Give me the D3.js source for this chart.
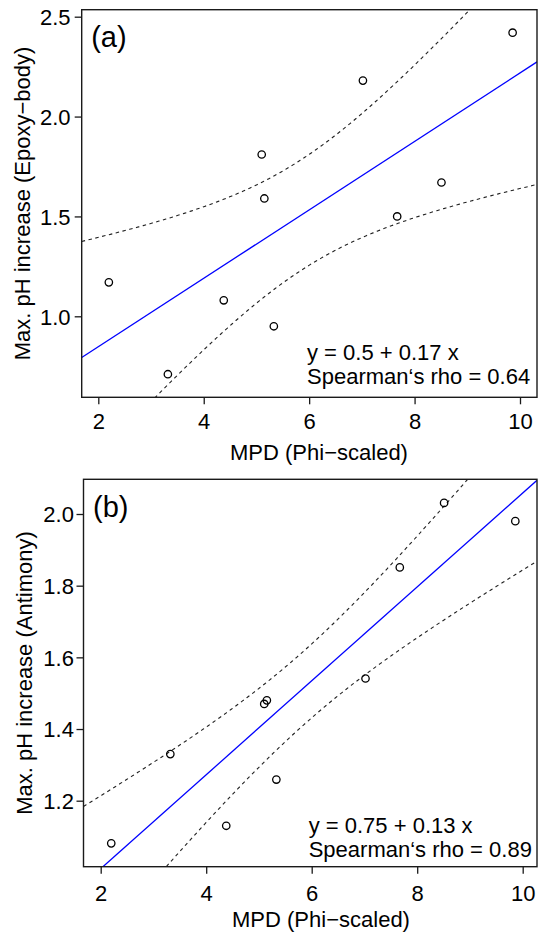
<!DOCTYPE html>
<html>
<head>
<meta charset="utf-8">
<script src="https://cdn.jsdelivr.net/npm/d3@7"></script>
<style>
html,body{margin:0;padding:0;background:#fff;}
svg{display:block;font-family:"Liberation Sans",Arial,Helvetica,sans-serif;}
</style>
</head>
<body>
<svg id="chart" width="539" height="932"></svg>
<script>
// ---- data ----
const mpd = [2.20, 3.32, 4.38, 5.10, 5.15, 5.33, 7.02, 7.67, 8.51, 9.86];
const phEpoxy = [1.17, 0.71, 1.08, 1.81, 1.59, 0.95, 2.18, 1.50, 1.67, 2.42];
const phAntimony = [1.081, 1.33, 1.13, 1.47, 1.48, 1.259, 1.541, 1.851, 2.031, 1.98];
const xTicks = [2, 4, 6, 8, 10];
const yTicksA = [1.0, 1.5, 2.0, 2.5];
const yTicksB = [1.2, 1.4, 1.6, 1.8, 2.0];
const panelLabels = ["(a)", "(b)"];
const yTitles = ["Max. pH increase (Epoxy\u2212body)", "Max. pH increase (Antimony)"];
const xTitle = "MPD (Phi\u2212scaled)";
const eqTexts = ["y = 0.5 + 0.17 x", "y = 0.75 + 0.13 x"];
const rhoTexts = ["Spearman\u2018s rho = 0.64", "Spearman\u2018s rho = 0.89"];
const tCrit = 2.306; // t(0.975, df = 8)

const svg = d3.select("#chart");
const FS = 22;

function fit(xs, ys) {
  const n = xs.length;
  const mx = d3.mean(xs), my = d3.mean(ys);
  let sxy = 0, sxx = 0;
  for (let i = 0; i < n; i++) { sxy += (xs[i]-mx)*(ys[i]-my); sxx += (xs[i]-mx)**2; }
  const b = sxy / sxx, a = my - b*mx;
  let sse = 0;
  for (let i = 0; i < n; i++) sse += (ys[i] - a - b*xs[i])**2;
  const s = Math.sqrt(sse/(n-2));
  return {a, b, s, n, mx, sxx};
}

function panel(cfg) {
  const {idx, box, xMap, yMap, yTicks, ys, labelBaseline, tickLabelEnd, eqBase} = cfg;
  const x = d3.scaleLinear().domain([2, 10]).range(xMap);
  const y = d3.scaleLinear().domain(yMap.dom).range(yMap.rng);
  const g = svg.append("g");
  const clipId = "clip" + idx;
  g.append("clipPath").attr("id", clipId).append("rect")
    .attr("x", box.l).attr("y", box.t).attr("width", box.r - box.l).attr("height", box.b - box.t);

  // fit + confidence band
  const m = fit(mpd, ys);
  const xLo = x.invert(box.l), xHi = x.invert(box.r);
  const grid = d3.range(0, 201).map(i => xLo + (xHi - xLo) * i / 200);
  const ci = sgn => grid.map(v => {
    const f = m.a + m.b*v;
    const se = m.s*Math.sqrt(1/m.n + (v-m.mx)**2/m.sxx);
    return [v, f + sgn*tCrit*se];
  });
  const line = d3.line().x(d => x(d[0])).y(d => y(d[1]));
  const cg = g.append("g").attr("clip-path", `url(#${clipId})`);
  [-1, 1].forEach(sgn => {
    cg.append("path").attr("d", line(ci(sgn))).attr("fill", "none")
      .attr("stroke", "#222").attr("stroke-width", 1.1).attr("stroke-dasharray", "3.5,3.5");
  });
  cg.append("path").attr("d", line([[xLo, m.a + m.b*xLo], [xHi, m.a + m.b*xHi]]))
    .attr("fill", "none").attr("stroke", "#0000ff").attr("stroke-width", 1.3);

  // points
  g.selectAll("circle.pt").data(mpd.map((v, i) => [v, ys[i]])).enter().append("circle")
    .attr("class", "pt").attr("cx", d => x(d[0])).attr("cy", d => y(d[1])).attr("r", 3.7)
    .attr("fill", "none").attr("stroke", "#000").attr("stroke-width", 1.3);

  // box
  g.append("rect").attr("x", box.l).attr("y", box.t).attr("width", box.r - box.l).attr("height", box.b - box.t)
    .attr("fill", "none").attr("stroke", "#1a1a1a").attr("stroke-width", 1.4);

  // x axis
  const xa = g.append("g").attr("transform", `translate(0,${box.b})`)
    .call(d3.axisBottom(x).tickValues(xTicks).tickSize(7).tickPadding(4).tickFormat(d3.format("d")));
  xa.select(".domain").remove();
  xa.selectAll("line").attr("stroke", "#1a1a1a").attr("stroke-width", 1.3);
  xa.selectAll("text").attr("font-size", FS).attr("fill", "#000").attr("font-family", null)
    .attr("dy", null).attr("y", cfg.xTickBase - box.b);

  // y axis
  const ya = g.append("g").attr("transform", `translate(${box.l},0)`)
    .call(d3.axisLeft(y).tickValues(yTicks).tickSize(7).tickPadding(4).tickFormat(d3.format(".1f")));
  ya.select(".domain").remove();
  ya.selectAll("line").attr("stroke", "#1a1a1a").attr("stroke-width", 1.3);
  ya.selectAll("text").attr("font-size", FS).attr("fill", "#000").attr("font-family", null)
    .attr("x", tickLabelEnd - box.l).attr("dy", "0.36em");

  // titles
  g.append("text").attr("x", cfg.xTitleX).attr("y", cfg.xTitleBase).attr("text-anchor", "middle")
    .attr("font-size", FS).text(xTitle);
  g.append("text").attr("transform", `translate(${cfg.yTitleX},${(box.t + box.b)/2}) rotate(-90)`)
    .attr("text-anchor", "middle").attr("font-size", FS).text(yTitles[idx]);

  // panel label
  g.append("text").attr("x", box.l + 9.5).attr("y", labelBaseline).attr("font-size", 29).text(panelLabels[idx]);

  // annotation
  g.append("text").attr("x", cfg.eqX).attr("y", eqBase[0]).attr("font-size", FS).text(eqTexts[idx]);
  g.append("text").attr("x", cfg.eqX).attr("y", eqBase[1]).attr("font-size", FS).text(rhoTexts[idx]);
}

panel({
  idx: 0,
  box: {l: 81.7, r: 537, t: 9.7, b: 397.3},
  xMap: [98.3, 520],
  yMap: {dom: [1.0, 2.5], rng: [316.3, 16.7]},
  yTicks: yTicksA, ys: phEpoxy,
  labelBaseline: 46.5,
  tickLabelEnd: 70.5,
  xTickBase: 429.3,
  xTitleX: 319, xTitleBase: 460,
  yTitleX: 30,
  eqX: 307, eqBase: [360, 384.3]
});

panel({
  idx: 1,
  box: {l: 83.5, r: 537, t: 479.3, b: 866.7},
  xMap: [100.7, 522.7],
  yMap: {dom: [1.2, 2.0], rng: [800.7, 514]},
  yTicks: yTicksB, ys: phAntimony,
  labelBaseline: 517,
  tickLabelEnd: 73.9,
  xTickBase: 900.7,
  xTitleX: 321, xTitleBase: 926.5,
  yTitleX: 32,
  eqX: 308.7, eqBase: [832.7, 856.7]
});
</script>
</body>
</html>
